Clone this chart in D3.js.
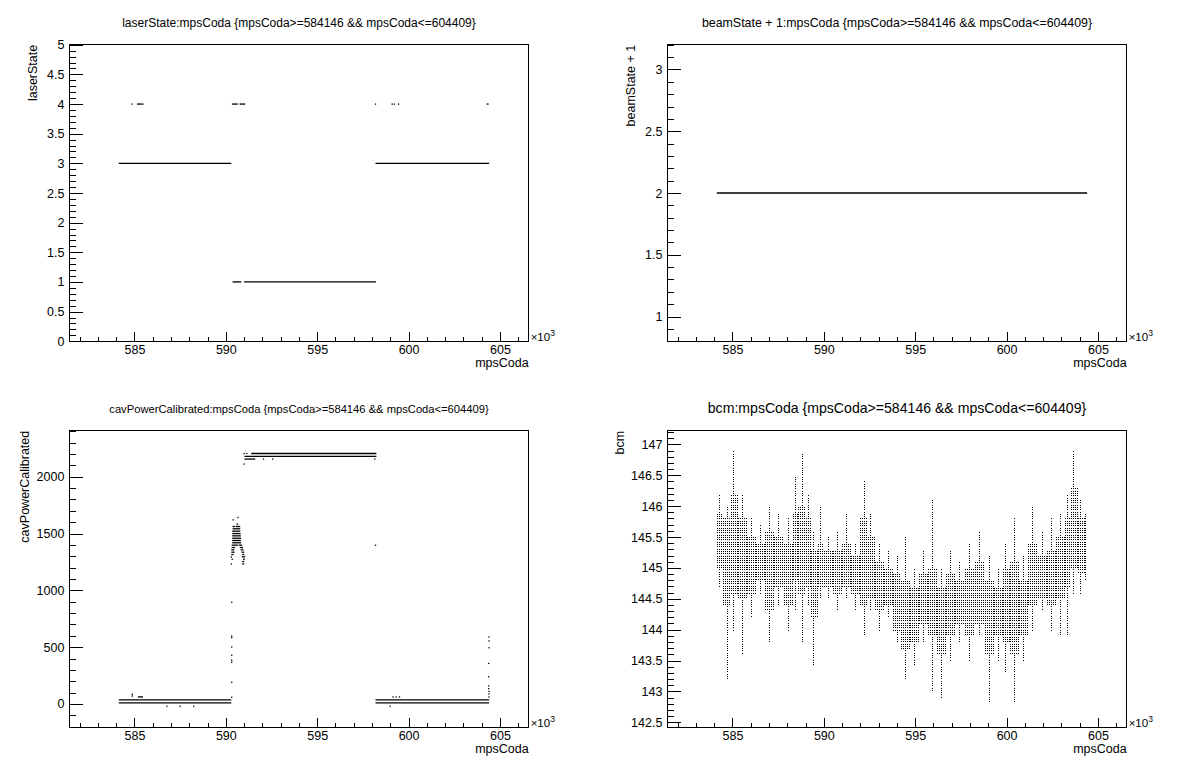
<!DOCTYPE html>
<html><head><meta charset="utf-8">
<script src="https://cdn.jsdelivr.net/npm/d3@7/dist/d3.min.js"></script>
<style>
body{margin:0;background:#fff;}
svg{display:block;font-family:"Liberation Sans",Arial,Helvetica,sans-serif;}
</style></head><body>
<svg id="c" width="1196" height="772"></svg>
<script>
// ---------------- DATA ----------------
const xDomain = [581.44, 606.57];            // mpsCoda / 1000
const xMajorTicks = [585, 590, 595, 600, 605];
const xMinorTicks = [582,583,584,586,587,588,589,591,592,593,594,596,597,598,599,601,602,603,604,606];

const titles = [
  "laserState:mpsCoda {mpsCoda>=584146 && mpsCoda<=604409}",
  "beamState + 1:mpsCoda {mpsCoda>=584146 && mpsCoda<=604409}",
  "cavPowerCalibrated:mpsCoda {mpsCoda>=584146 && mpsCoda<=604409}",
  "bcm:mpsCoda {mpsCoda>=584146 && mpsCoda<=604409}"
];
const yTitles = ["laserState", "beamState + 1", "cavPowerCalibrated", "bcm"];
const xTitle = "mpsCoda";

const yDomains = [[0, 5], [0.8, 3.2], [-205, 2405], [142.42, 147.22]];
const yMajorTicks = [
  [0,0.5,1,1.5,2,2.5,3,3.5,4,4.5,5],
  [1,1.5,2,2.5,3],
  [0,500,1000,1500,2000],
  [142.5,143,143.5,144,144.5,145,145.5,146,146.5,147]
];
const yMinorStep = [0.1, 0.1, 100, 0.1];
const yTickLabels = [
  ["0","0.5","1","1.5","2","2.5","3","3.5","4","4.5","5"],
  ["1","1.5","2","2.5","3"],
  ["0","500","1000","1500","2000"],
  ["142.5","143","143.5","144","144.5","145","145.5","146","146.5","147"]
];

// laserState: horizontal runs [xStart, xEnd, value] and isolated points [x, value]
const laserRuns = [
  [584.146, 590.30, 3], [598.19, 604.409, 3],
  [590.37, 590.85, 1], [591.00, 598.22, 1],
  [590.33, 590.66, 4], [590.75, 591.06, 4], [585.14, 585.42, 4], [604.27, 604.38, 4]
];
const laserPoints = [[584.87,4],[585.47,4],[598.19,4],[599.10,4],[599.22,4],[599.45,4]];

// beamState + 1
const beamRuns = [[584.146, 604.409, 2]];
const beamPoints = [];

// cavPowerCalibrated
const cavRuns = [
  [584.146, 590.30, 35], [584.146, 590.30, 10],
  [598.19, 604.409, 35], [598.19, 604.409, 10],
  [591.39, 598.24, 2205], [591.02, 598.24, 2180], [591.02, 591.61, 2156],
  [585.19, 585.47, 62],
  [590.59, 590.68, 1583],
  [590.37, 590.51, 1562], [590.55, 590.79, 1562],
  [590.37, 590.79, 1542], [590.35, 590.79, 1521], [590.35, 590.81, 1500],
  [590.35, 590.82, 1480], [590.35, 590.84, 1459], [590.35, 590.82, 1439],
  [590.35, 590.84, 1419],
  [590.32, 590.66, 1398], [590.70, 590.90, 1398],
  [590.32, 590.51, 1377], [590.77, 590.94, 1377],
  [590.30, 590.46, 1357], [590.81, 590.97, 1357],
  [590.30, 590.48, 1336], [590.86, 591.01, 1336],
  [590.30, 590.42, 1315], [590.90, 591.01, 1315],
  [590.88, 591.06, 1295], [590.94, 591.04, 1274],
  [590.90, 591.01, 1254], [590.90, 591.01, 1233]
];
const cavPoints = [
  [590.66,1642],[590.40,1621],[590.30,1295],[590.35,1274],[590.30,1233],
  [584.88,85],[584.88,70],[586.77,-20],[587.50,-20],[588.24,-20],
  [599.15,62],[599.32,62],[599.50,62],[598.99,-20],
  [590.32,59],[590.32,191],[590.32,367],[590.32,385],[590.32,429],[590.32,502],
  [590.32,584],[590.32,599],[590.32,896],[598.19,1398],
  [604.40,590],[604.40,555],[604.40,495],[604.38,357],[604.38,240],[604.38,160],
  [604.38,135],[604.40,110],[604.40,88],[604.40,62],
  [591.00,2205],[591.15,2205],[591.00,2112],[592.06,2156],[592.56,2156],[598.15,2156]
];

// bcm: per-slice envelope  (x = slice start /1000, full range lo..hi, dense core coreLo..coreHi)
const bcmX      = [584.15,584.5,584.9,585.3,585.8,586.3,586.8,587.3,587.8,588.3,588.6,589.0,589.3,589.7,590.0,590.5,591.0,591.5,592.0,592.4,592.8,593.3,593.8,594.2,594.7,595.2,595.7,596.2,596.7,597.2,597.7,598.3,598.8,599.3,599.8,600.2,600.7,601.2,601.7,602.2,602.7,603.2,603.5,603.9,604.3];
const bcmLo     = [144.7,143.2,144.0,143.6,144.2,144.6,143.8,144.4,144.0,144.3,143.8,144.4,143.4,144.5,144.5,144.3,144.5,144.3,143.9,144.3,144.0,144.2,143.8,143.2,143.4,143.8,143.0,142.9,143.5,143.8,143.5,143.9,142.8,143.5,143.3,142.8,143.5,144.0,144.3,144.0,143.9,143.9,144.6,144.6,144.8];
const bcmHi     = [146.2,146.0,146.9,146.2,145.8,145.7,146.0,145.9,145.8,146.5,146.85,146.2,145.6,146.0,145.5,145.6,145.9,145.4,146.4,145.9,145.4,145.3,145.2,145.5,145.0,145.3,146.1,145.0,145.3,145.1,145.4,145.6,145.2,145.0,145.4,145.8,145.2,146.0,145.6,145.8,145.9,146.2,146.9,146.1,145.9];
const bcmCoreLo = [145.0,144.4,144.6,144.5,144.6,144.8,144.3,144.7,144.4,144.8,144.6,144.7,144.2,144.7,144.7,144.6,144.7,144.6,144.4,144.5,144.3,144.4,144.0,143.7,143.8,144.1,143.9,143.6,143.9,144.1,143.9,144.1,143.6,143.9,143.8,143.6,143.9,144.4,144.5,144.4,144.5,144.7,145.0,144.9,145.0];
const bcmCoreHi = [145.9,145.8,146.2,145.8,145.5,145.4,145.6,145.5,145.4,145.9,146.0,145.8,145.3,145.4,145.3,145.3,145.4,145.2,145.8,145.5,145.1,145.0,144.9,144.8,144.7,144.9,145.0,144.7,144.9,144.8,145.0,145.1,144.8,144.7,145.0,145.1,144.8,145.4,145.2,145.3,145.5,145.8,146.3,145.8,145.7];
const bcmEnd = 604.409;
const bcmStep = 0.0375;   // bcm readout resolution

// ---------------- LAYOUT / DRAW ----------------
const W = 1196, H = 772;
const FONT = '"Liberation Sans",Arial,Helvetica,sans-serif';
const titleSizes = [12.0, 12.4, 11.2, 14.1];
const yTitleOffset = [36.8, 36.8, 45, 47.4];
const svg = d3.select("#c");

function padBox(i) {
  const col = i % 2, row = Math.floor(i / 2);
  const px = W * (0.01 + 0.5 * col), pw = W * 0.48;
  const py = H * (0.01 + 0.5 * row), ph = H * 0.48;
  return {px, py, pw, ph, l: px + 0.1 * pw, r: px + 0.9 * pw, t: py + 0.1 * ph, b: py + 0.9 * ph};
}

function range(a, b, s) { const out = []; const n = Math.round((b - a) / s); for (let k = 0; k <= n; k++) out.push(+(a + k * s).toFixed(6)); return out; }

const panels = [];
for (let i = 0; i < 4; i++) {
  const p = padBox(i);
  const g = svg.append("g");
  const x = d3.scaleLinear().domain(xDomain).range([p.l, p.r]);
  const y = d3.scaleLinear().domain(yDomains[i]).range([p.b, p.t]);
  const fw = p.r - p.l, fh = p.b - p.t;

  // title
  g.append("text").attr("x", p.px + p.pw / 2).attr("y", p.py + 19.5)
    .attr("text-anchor", "middle").style("font-size", titleSizes[i] + "px").style("font-family", FONT)
    .text(titles[i]);

  // x axis
  const xMaj = d3.axisBottom(x).tickValues(xMajorTicks).tickSizeInner(-0.03 * fh).tickSizeOuter(0)
    .tickPadding(4).tickFormat(d3.format("d"));
  const xMin = d3.axisBottom(x).tickValues(xMinorTicks).tickSizeInner(-0.015 * fh).tickSizeOuter(0).tickFormat("");
  const gx = g.append("g").attr("transform", `translate(0,${p.b})`).call(xMaj);
  g.append("g").attr("transform", `translate(0,${p.b})`).call(xMin);
  gx.selectAll("text").style("font-size", "12.5px").style("font-family", FONT).attr("fill", "#000");

  // y axis
  const labels = yTickLabels[i];
  const yMaj = d3.axisLeft(y).tickValues(yMajorTicks[i]).tickSizeInner(-0.03 * fw).tickSizeOuter(0)
    .tickPadding(5).tickFormat((d, k) => labels[k]);
  const dom = yDomains[i], st = yMinorStep[i];
  const minVals = range(Math.ceil(dom[0] / st - 1e-6) * st, Math.floor(dom[1] / st + 1e-6) * st, st)
    .filter(v => !yMajorTicks[i].some(m => Math.abs(m - v) < st / 10));
  const yMin = d3.axisLeft(y).tickValues(minVals).tickSizeInner(-0.015 * fw).tickSizeOuter(0).tickFormat("");
  const gy = g.append("g").attr("transform", `translate(${p.l},0)`).call(yMaj);
  g.append("g").attr("transform", `translate(${p.l},0)`).call(yMin);
  gy.selectAll("text").style("font-size", "12.5px").style("font-family", FONT).attr("fill", "#000");

  g.selectAll(".domain").remove();
  g.selectAll(".tick line").attr("stroke", "#000").attr("shape-rendering", "crispEdges");

  // frame
  g.append("rect").attr("x", p.l).attr("y", p.t).attr("width", fw).attr("height", fh)
    .attr("fill", "none").attr("stroke", "#000").attr("shape-rendering", "crispEdges");

  // axis titles
  g.append("text").attr("x", p.r).attr("y", p.b + 25.5).attr("text-anchor", "end")
    .style("font-size", "12.5px").style("font-family", FONT).text(xTitle);
  const xe = g.append("text").attr("x", p.r + 2).attr("y", p.b ).style("font-size", "11.5px").style("font-family", FONT);
  xe.append("tspan").text("\u00d710");
  xe.append("tspan").attr("dy", "-5").style("font-size", "8.5px").text("3");
  const yc = p.l - yTitleOffset[i];
  g.append("text").attr("transform", `translate(${yc},${p.t}) rotate(-90)`).attr("dy", "0.35em")
    .attr("text-anchor", "end").style("font-size", "12.5px").style("font-family", FONT).text(yTitles[i]);

  panels.push({g, x, y, p});
}

function drawRunsPoints(panel, runs, pts) {
  const {g, x, y} = panel;
  g.append("g").selectAll("line").data(runs).join("line")
    .attr("x1", d => x(d[0])).attr("x2", d => x(d[1]))
    .attr("y1", d => y(d[2])).attr("y2", d => y(d[2]))
    .attr("stroke", "#000").attr("stroke-width", 1.3);
  g.append("g").selectAll("rect").data(pts).join("rect")
    .attr("x", d => x(d[0]) - 0.6).attr("y", d => y(d[1]) - 0.6)
    .attr("width", 1.3).attr("height", 1.3).attr("fill", "#000");
}
drawRunsPoints(panels[0], laserRuns, laserPoints);
drawRunsPoints(panels[1], beamRuns, beamPoints);
drawRunsPoints(panels[2], cavRuns, cavPoints);

// bcm: dotted columns at the bcm readout resolution
(function () {
  const {g, x, y} = panels[3];
  const q = bcmStep;
  let path = "";
  function column(px, lo, hi) {
    const a = Math.ceil(lo / q), b = Math.floor(hi / q);
    for (let k = a; k <= b; k++) {
      const py = Math.round(y(k * q));
      path += `M${px},${py}h1v1h-1z`;
    }
  }
  bcmX.forEach((x0, i) => {
    const x1 = i + 1 < bcmX.length ? bcmX[i + 1] : bcmEnd;
    const p0 = Math.round(x(x0)), p1 = Math.round(x(x1));
    const mid = p0 + 2 * Math.floor((p1 - p0) / 4);
    for (let px = p0; px < p1; px += 2) {
      if (px === mid) column(px, bcmLo[i], bcmHi[i]);
      else column(px, bcmCoreLo[i], bcmCoreHi[i]);
    }
  });
  g.append("path").attr("d", path).attr("fill", "#000").attr("shape-rendering", "crispEdges");
})();
</script>
</body></html>
